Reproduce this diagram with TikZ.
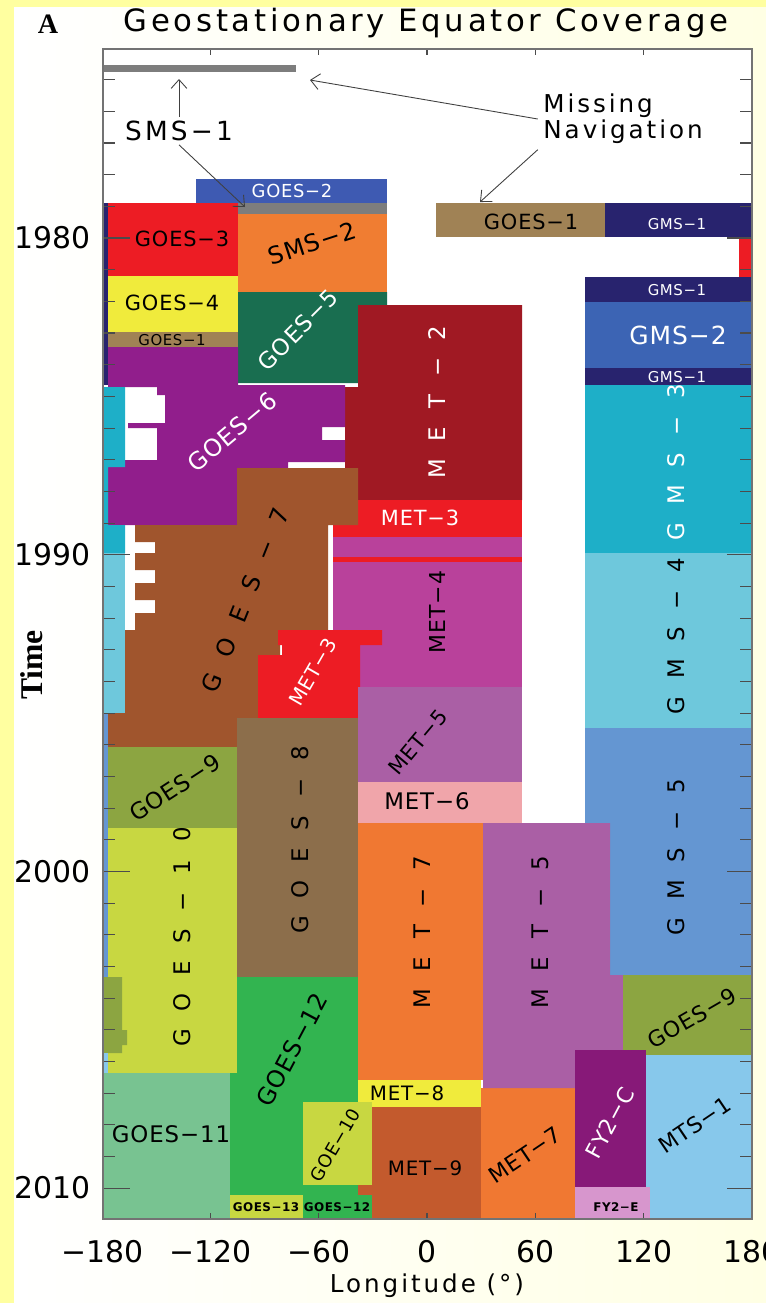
\documentclass[tikz,border=0pt]{standalone}
\usepackage{fontspec}
\setmainfont{Liberation Serif}
\newfontfamily\plotfont[LetterSpace=4]{DejaVu Sans}
\newfontfamily\widefont[LetterSpace=78]{DejaVu Sans}
\newfontfamily\titlefont[LetterSpace=12]{DejaVu Sans}
\newfontfamily\tickfont{DejaVu Sans}
\usetikzlibrary{arrows.meta}

\definecolor{edgeyellow}{RGB}{255,255,160}
\definecolor{creamy}{RGB}{255,255,228}
\definecolor{navbar}{RGB}{125,125,125}
\definecolor{goestwo}{RGB}{62,90,178}
\definecolor{goesthree}{RGB}{237,28,36}
\definecolor{smstwo}{RGB}{240,125,50}
\definecolor{goesfour}{RGB}{240,235,60}
\definecolor{goesone}{RGB}{160,130,85}
\definecolor{goesfive}{RGB}{25,110,80}
\definecolor{mettwo}{RGB}{160,25,35}
\definecolor{metthree}{RGB}{237,28,36}
\definecolor{metfour}{RGB}{185,65,155}
\definecolor{metfive}{RGB}{170,95,165}
\definecolor{metsix}{RGB}{240,165,170}
\definecolor{metseven}{RGB}{240,120,50}
\definecolor{meteight}{RGB}{240,235,60}
\definecolor{metnine}{RGB}{195,90,45}
\definecolor{goessix}{RGB}{145,30,140}
\definecolor{goesseven}{RGB}{160,85,45}
\definecolor{goeseight}{RGB}{140,110,75}
\definecolor{goesnine}{RGB}{140,165,65}
\definecolor{goesten}{RGB}{200,215,65}
\definecolor{goeseleven}{RGB}{120,195,145}
\definecolor{goestwelve}{RGB}{50,180,80}
\definecolor{gmsone}{RGB}{40,35,110}
\definecolor{gmstwo}{RGB}{60,100,180}
\definecolor{gmsthree}{RGB}{30,175,200}
\definecolor{gmsfour}{RGB}{110,200,220}
\definecolor{gmsfive}{RGB}{100,150,210}
\definecolor{fytwoc}{RGB}{135,25,120}
\definecolor{fytwoe}{RGB}{215,150,205}
\definecolor{mtsone}{RGB}{135,200,235}

\begin{document}
\begin{tikzpicture}[x=0.02cm, y=-0.02cm,
  lab/.style={inner sep=0pt, font=\plotfont\fontsize{#1}{#1}\selectfont},
  spaced/.style={inner sep=0pt, font=\widefont\fontsize{#1}{#1}\selectfont},
  tiny/.style={inner sep=0pt, font=\plotfont\bfseries\fontsize{6.8}{7}\selectfont},
  ticklab/.style={inner sep=0pt, font=\tickfont\fontsize{17}{17}\selectfont},
  tick/.style={line width=0.6pt, black!70},
  pointer/.style={-{Straight Barb[length=5pt,width=9pt]}, line width=0.5pt, black!75}]
\useasboundingbox (0,0) rectangle (766,1303);
\fill[edgeyellow] (0,0) rectangle (766,1303);
\shade[left color=white, right color=creamy] (14,7) rectangle (766,1303);
\fill[white] (103,49) rectangle (752,1219);

% early years
\fill[navbar] (103,65) rectangle (296,72);
\fill[goestwo] (196,179) rectangle (387,203);
\fill[navbar] (238,203) rectangle (387,214);
\fill[goesthree] (107,203) rectangle (238,276);
\fill[smstwo] (238,214) rectangle (387,292);
\fill[goesfour] (107,276) rectangle (238,332);
\fill[goesone] (107,332) rectangle (238,347);
\fill[goesfive] (238,292) -- (387,292) -- (387,305) -- (358,305) -- (358,383) -- (238,383) -- cycle;

% meteosat column
\fill[mettwo] (358,305) -- (522,305) -- (522,500) -- (345,500) -- (345,387) -- (358,387) -- cycle;
\fill[metthree] (333,500) rectangle (522,537);
\fill[metfour] (333,537) rectangle (522,687);
\fill[metthree] (333,557) rectangle (522,562);
\fill[goessix] (108,347) -- (238,347) -- (238,385) -- (345,385) -- (345,427) -- (322,427)
  -- (322,440) -- (345,440) -- (345,462) -- (288,462) -- (288,468) -- (237,468)
  -- (237,525) -- (108,525) -- (108,460) -- (157,460) -- (157,428) -- (128,428)
  -- (128,423) -- (165,423) -- (165,395) -- (157,395) -- (157,387) -- (108,387) -- cycle;
\fill[goesseven] (237,468) -- (358,468) -- (358,525) -- (328,525) -- (328,630) -- (280,630)
  -- (280,655) -- (258,655) -- (258,718) -- (237,718) -- (237,747) -- (105,747)
  -- (105,713) -- (125,713) -- (125,630) -- (135,630) -- (135,613) -- (155,613)
  -- (155,600) -- (135,600) -- (135,583) -- (155,583) -- (155,570) -- (135,570)
  -- (135,553) -- (155,553) -- (155,542) -- (135,542) -- (135,525) -- (237,525) -- cycle;
\fill[metthree] (278,630) -- (382,630) -- (382,645) -- (360,645) -- (360,718) -- (258,718)
  -- (258,655) -- (282,655) -- (282,645) -- (278,645) -- cycle;
\fill[metfive] (358,687) rectangle (522,782);
\fill[metsix] (358,782) rectangle (522,823);
\fill[goeseight] (237,718) rectangle (358,977);
\fill[goesnine] (107,747) rectangle (237,828);
\fill[goesten] (108,828) rectangle (237,1073);
\fill[goestwelve] (237,977) -- (358,977) -- (358,1195) -- (230,1195) -- (230,1073) -- (237,1073) -- cycle;
\fill[goeseleven] (103,1073) rectangle (230,1219);
\fill[metseven] (358,823) rectangle (483,1080);
\fill[meteight] (358,1080) rectangle (481,1107);
\fill[metnine] (358,1107) rectangle (481,1219);
\fill[goesten] (303,1102) rectangle (372,1185);
\fill[goesten] (230,1195) rectangle (303,1219);
\fill[goestwelve] (303,1195) rectangle (372,1219);
\fill[metseven] (481,1088) rectangle (575,1219);

% pacific column
\fill[goesone] (436,203) rectangle (605,237);
\fill[gmsone] (605,203) rectangle (752,237);
\fill[goesthree] (739,237) rectangle (752,277);
\fill[gmsone] (585,277) rectangle (752,302);
\fill[gmstwo] (585,302) rectangle (752,368);
\fill[gmsone] (585,368) rectangle (752,385);
\fill[gmsthree] (585,385) rectangle (752,553);
\fill[gmsfour] (585,553) rectangle (752,728);
\fill[gmsfive] (585,728) rectangle (752,975);
\fill[metfive] (483,823) -- (610,823) -- (610,975) -- (623,975) -- (623,1050) -- (575,1050)
  -- (575,1088) -- (483,1088) -- cycle;
\fill[goesnine] (623,975) rectangle (752,1055);
\fill[fytwoc] (575,1050) rectangle (646,1187);
\fill[mtsone] (646,1055) rectangle (752,1219);
\fill[fytwoe] (575,1187) rectangle (650,1219);

% wrap-around strips at -180
\fill[gmsone] (103,203) rectangle (108,385);
\fill[gmsthree] (103,387) -- (125,387) -- (125,467) -- (108,467) -- (108,525) -- (125,525)
  -- (125,553) -- (103,553) -- cycle;
\fill[gmsfour] (103,553) rectangle (125,713);
\fill[gmsfive] (103,713) rectangle (108,977);
\fill[goesnine] (103,977) -- (122,977) -- (122,1030) -- (127,1030) -- (127,1045) -- (122,1045)
  -- (122,1053) -- (103,1053) -- cycle;
\fill[mtsone] (103,1053) rectangle (108,1073);

% axes
\foreach \yr in {1975,...,2010}
  \draw[tick] (103,{238+31.67*(\yr-1980)}) -- ++(12,0)
              (752,{238+31.67*(\yr-1980)}) -- ++(-12,0);
\foreach \yr in {1980,1990,2000,2010}
  \draw[tick] (103,{238+31.67*(\yr-1980)}) -- ++(27,0)
              (752,{238+31.67*(\yr-1980)}) -- ++(-25,0);
\foreach \lon in {-120,-60,0,60,120}
  \draw[tick] ({427+1.805*\lon},49) -- ++(0,6)
              ({427+1.805*\lon},1219) -- ++(0,-6);
\draw[line width=0.6pt, black!55] (103,49) rectangle (752,1219);

\foreach \yr in {1980,1990,2000,2010}
  \node[ticklab, anchor=east] (yl\yr) at (91,{238+31.67*(\yr-1980)}) {\yr};
\foreach \lon/\txt in {-180/−180,-120/−120,-60/−60,0/0,60/60,120/120,180/180}
  \node[ticklab] (xl\lon) at ({427+1.805*\lon},1252) {\txt};
\node[inner sep=0pt, font=\titlefont\fontsize{14}{14}\selectfont] (xaxis) at (427,1286) {Longitude (°)};
\node[inner sep=0pt, rotate=90, font=\bfseries\fontsize{18}{18}\selectfont] (yaxis) at (32,665) {Time};
\node[inner sep=0pt, font=\bfseries\fontsize{16}{16}\selectfont] (panel) at (48,24) {A};
\node[inner sep=0pt, font=\titlefont\fontsize{17.5}{17.5}\selectfont] (title) at (426,23) {Geostationary Equator Coverage};

% satellite labels
\node[lab=10.2, white] (goes2lab) at (292,191) {GOES−2};
\node[lab=11.9] (goes3lab) at (182,239) {GOES−3};
\node[lab=13.6, rotate=18] (sms2lab) at (312,243) {SMS−2};
\node[lab=11.9] (goes4lab) at (172,303) {GOES−4};
\node[lab=8.5] (goes1lab) at (172,340) {GOES−1};
\node[lab=13, white, rotate=45] (goes5lab) at (298,330) {GOES−5};
\node[lab=13.6, white, rotate=40] (goes6lab) at (232,432) {GOES−6};
\node[spaced=13, white, rotate=90] (met2lab) at (437,402) {MET−2};
\node[lab=11.9, white] (met3lab) at (420,518) {MET−3};
\node[lab=12.5, rotate=90] (met4lab) at (437,612) {MET−4};
\node[spaced=13.6, rotate=68] (goes7lab) at (245,600) {GOES−7};
\node[lab=11.3, white, rotate=60] (met3blab) at (313,672) {MET−3};
\node[lab=11.9, rotate=50] (met5lab) at (418,742) {MET−5};
\node[lab=13] (met6lab) at (427,801) {MET−6};
\node[lab=13, rotate=33] (goes9lab) at (175,788) {GOES−9};
\node[spaced=13, rotate=90] (goes8lab) at (300,840) {GOES−8};
\node[spaced=13, rotate=90] (goes10lab) at (182,937) {GOES−10};
\node[lab=13.6, rotate=62] (goes12lab) at (292,1050) {GOES−12};
\node[lab=10.2, rotate=60] (goe10lab) at (335,1145) {GOE−10};
\node[lab=13] (goes11lab) at (171,1134) {GOES−11};
\node[tiny] (goes13lab) at (266,1207) {GOES−13};
\node[tiny] (goes12blab) at (337,1207) {GOES−12};
\node[spaced=13, rotate=90] (met7lab) at (422,932) {MET−7};
\node[spaced=13, rotate=90] (met5blab) at (540,932) {MET−5};
\node[lab=11.3] (met8lab) at (407,1093) {MET−8};
\node[lab=11.3] (met9lab) at (425,1168) {MET−9};
\node[lab=12.5, rotate=34] (met7blab) at (525,1155) {MET−7};
\node[lab=12.5, white, rotate=62] (fy2clab) at (610,1123) {FY2−C};
\node[tiny] (fy2elab) at (616,1207) {FY2−E};
\node[lab=12.5, rotate=34] (mts1lab) at (695,1125) {MTS−1};
\node[lab=12.5, rotate=30] (goes9blab) at (692,1018) {GOES−9};
\node[spaced=13, rotate=90] (gms5lab) at (676,857) {GMS−5};
\node[spaced=13, rotate=90] (gms4lab) at (676,636) {GMS−4};
\node[spaced=13, white, rotate=90] (gms3lab) at (676,462) {GMS−3};
\node[lab=14.2, white] (gms2lab) at (678,335) {GMS−2};
\node[lab=8.5, white] (gms1alab) at (677,224) {GMS−1};
\node[lab=8.5, white] (gms1blab) at (677,290) {GMS−1};
\node[lab=8.5, white] (gms1clab) at (677,377) {GMS−1};
\node[lab=11.9] (goes1blab) at (531,222) {GOES−1};

% missing navigation notes
\node[inner sep=2pt, font=\titlefont\fontsize{15}{15}\selectfont] (sms1) at (179,131) {SMS−1};
\node[inner sep=3pt, align=left, font=\titlefont\fontsize{14}{15}\selectfont] (missnav) at (623,119) {Missing\\Navigation};
\coordinate (barmid) at (179,79);
\coordinate (barend) at (310,80);
\coordinate (stripend) at (245,207);
\coordinate (goes1end) at (480,202);
\draw[pointer] (sms1.north) -- (barmid);
\draw[pointer] (sms1.south) -- (stripend);
\draw[pointer] (missnav.west) -- (barend);
\draw[pointer] (missnav.south west) -- (goes1end);
\end{tikzpicture}
\end{document}
